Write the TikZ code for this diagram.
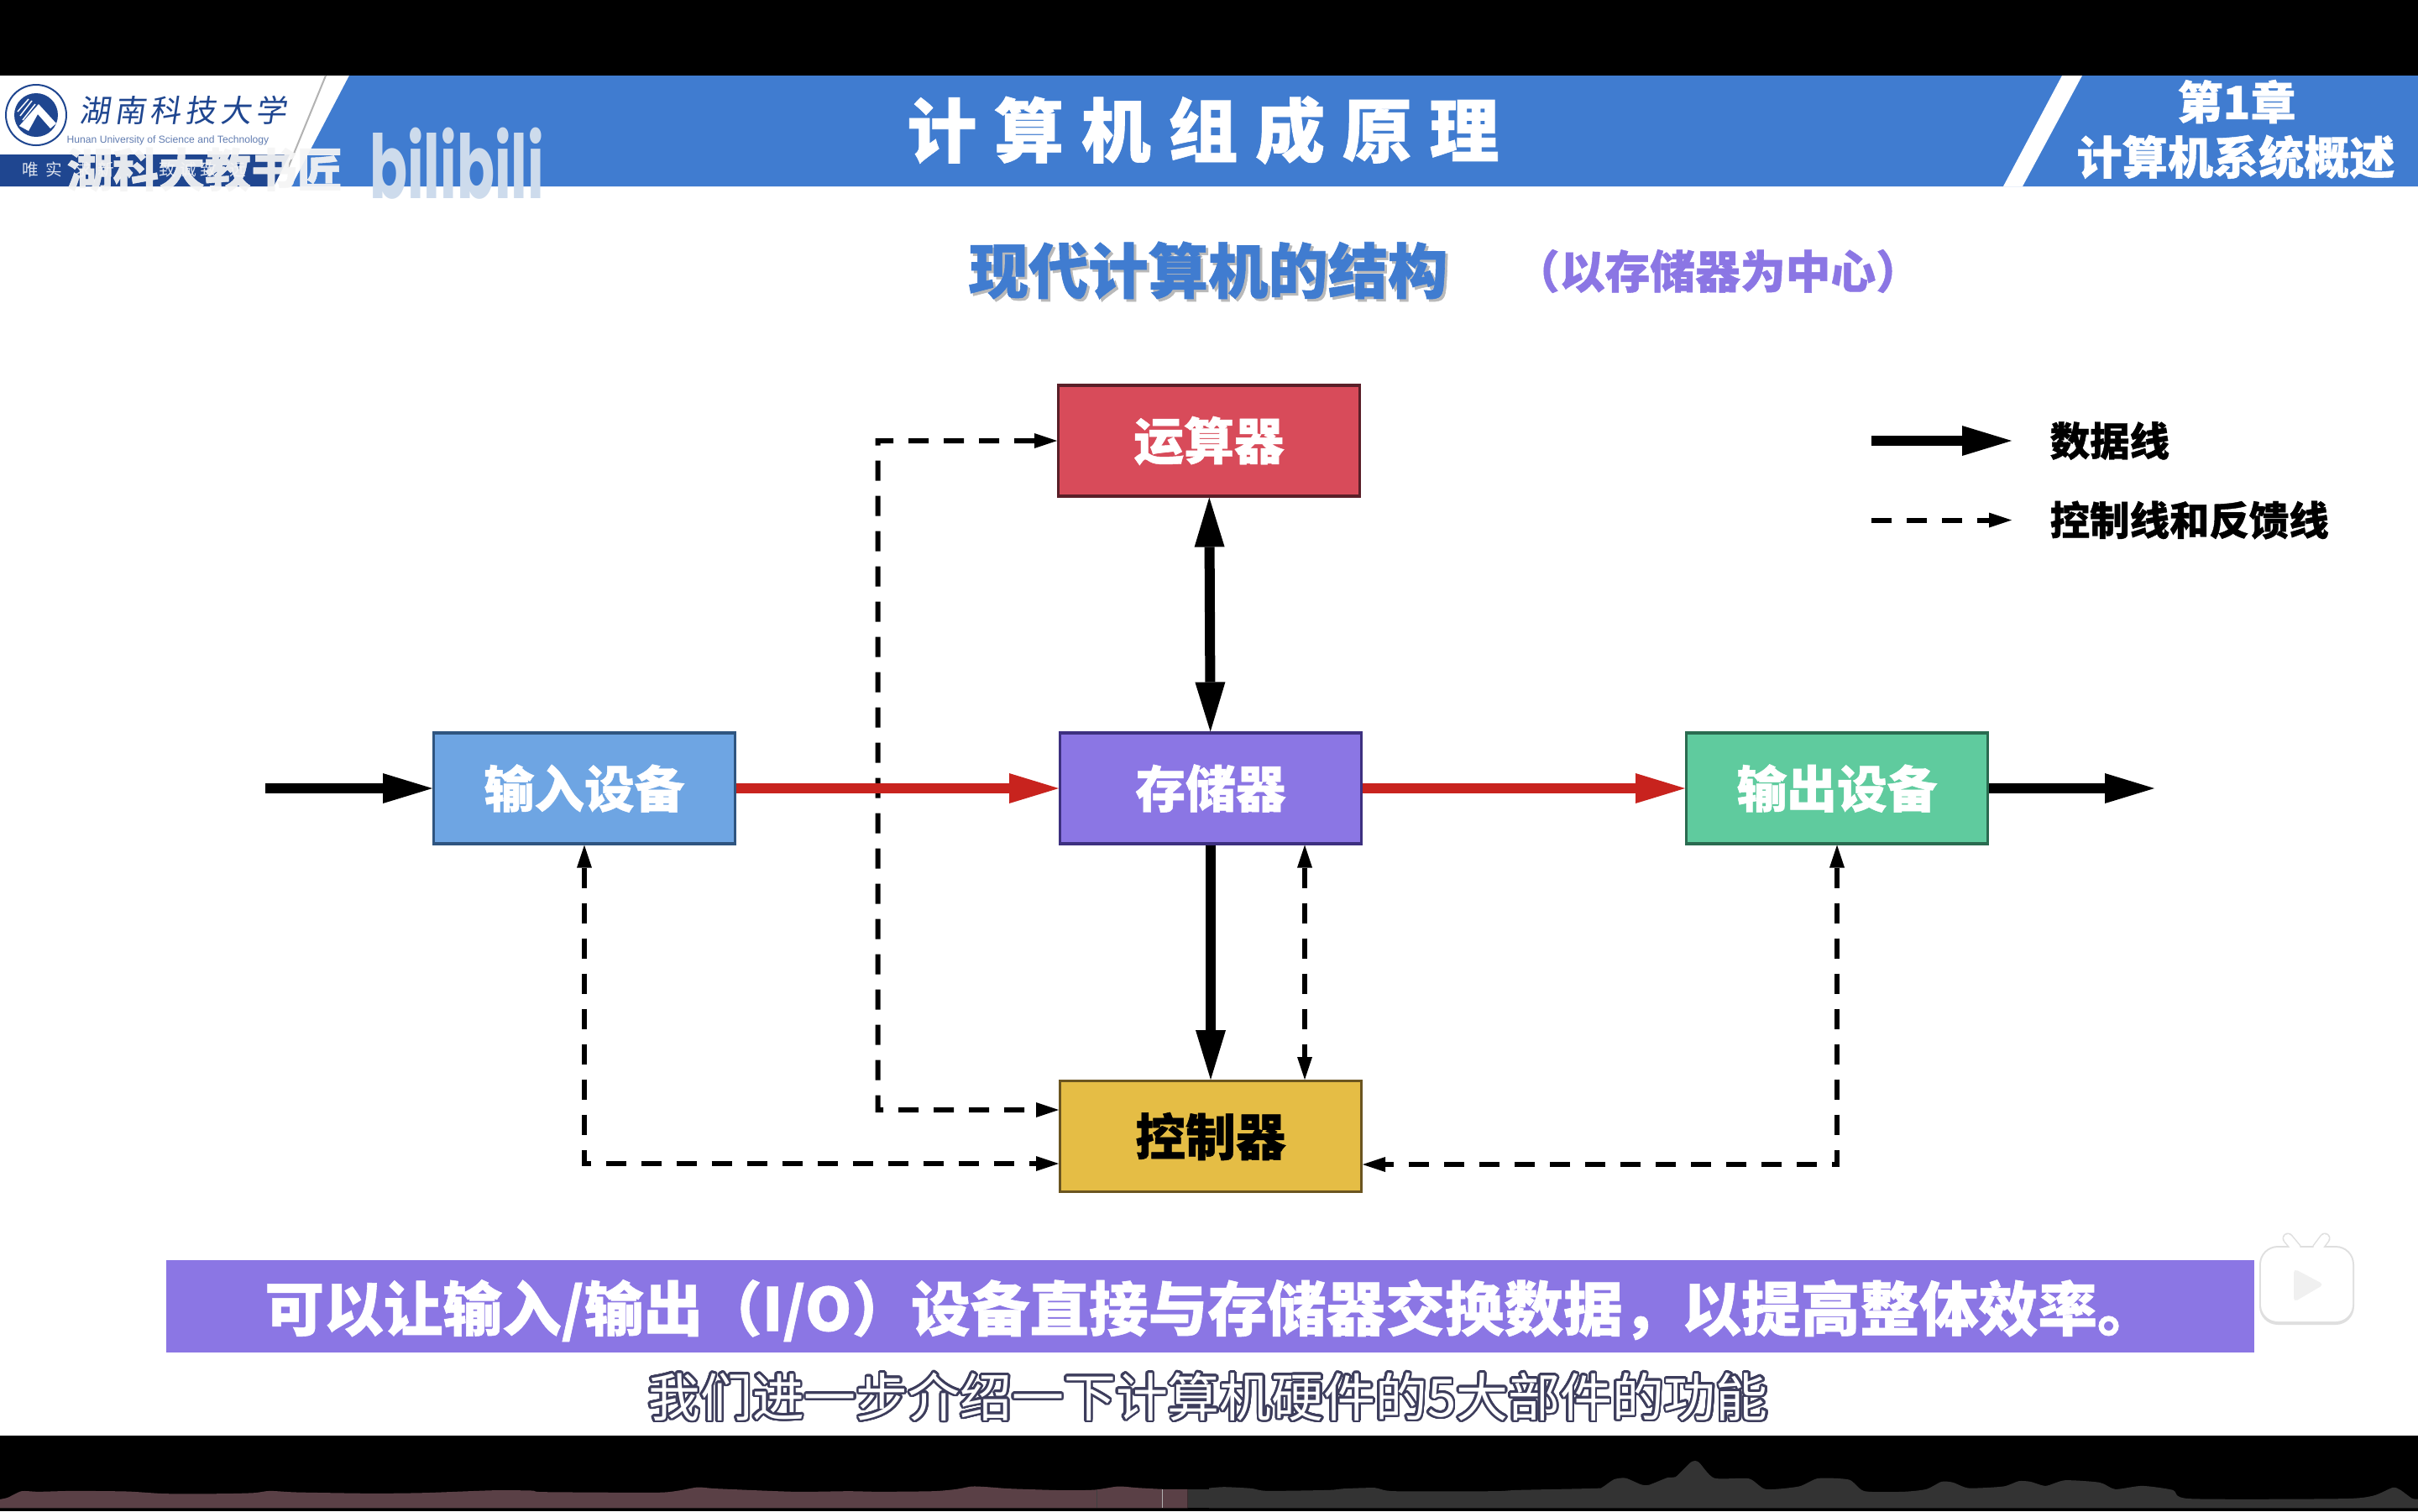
\documentclass[tikz,border=0pt]{standalone}
\usepackage{fontspec}
\usepackage{xcolor}
\usepackage{contour}
\setmainfont{Noto Sans CJK SC}[BoldFeatures={FakeBold=0.8}]
\newfontfamily\headfont[LetterSpace=25, BoldFeatures={FakeBold=0.8}]{Noto Sans CJK SC}
\newfontfamily\schoolfont[LetterSpace=14]{Noto Sans CJK SC}
\newfontfamily\latinfont{Liberation Sans}
\newfontfamily\logofont{Poppins}
\usetikzlibrary{arrows.meta, positioning}
\definecolor{headblue}{HTML}{407CD0}
\definecolor{navyblue}{HTML}{1F4690}
\definecolor{slidepurple}{HTML}{8B76E4}
\definecolor{capslate}{HTML}{3D3D5C}
\definecolor{busred}{HTML}{C8231E}
\contourlength{0.75pt}
\contournumber{32}
\tikzset{
  unitbox/.style={draw, line width=0.9pt, minimum width=3.59cm, minimum height=1.32cm, inner sep=0pt,
                  outer sep=0.015cm, font=\fontsize{17}{20}\selectfont\bfseries, text=white},
  dataarrow/.style={>={Triangle[length=5.9mm, width=3.6mm, line width=0pt]}, line width=1.2mm, black},
  redarrow/.style={dataarrow, color=busred},
  ctrlarrow/.style={>={Triangle[length=2.7mm, width=1.8mm, line width=0pt]}, line width=0.6mm, black,
                    dash pattern=on 2.4mm off 1.8mm},
  legendlabel/.style={anchor=west, inner sep=0pt, font=\fontsize{13.5}{16}\selectfont\bfseries},
  headlabel/.style={inner sep=0pt, text=white, font=\fontsize{15.4}{18}\selectfont\bfseries}
}

\begin{document}
\begin{tikzpicture}[
  playedwave/.style={fill={rgb,255:red,90;green,64;blue,70}},
  restwave/.style={fill={rgb,255:red,51;green,51;blue,51}},
]
\useasboundingbox (0,0) rectangle (28.8,-18);

% --- Screen frame ---
\fill[black] (0,0) rectangle (28.8,-18);
\fill[white] (0,-0.9) rectangle (28.8,-17.1);

% --- Header band ---
\fill[headblue] (4.16,-0.9) -- (28.8,-0.9) -- (28.8,-2.22) -- (3.47,-2.22) -- cycle;
\fill[white] (24.56,-0.9) -- (24.8,-0.9) -- (24.09,-2.22) -- (23.86,-2.22) -- cycle;
\fill[navyblue] (0,-1.84) -- (3.45,-1.84) -- (3.26,-2.22) -- (0,-2.22) -- cycle;
\draw[gray!60, line width=0.2mm] (3.88,-0.9) -- (3.43,-2);

% --- School badge ---
\draw[navyblue, line width=0.2mm, fill=white] (0.43,-1.37) circle (0.36);
\fill[navyblue] (0.43,-1.37) circle (0.26);
\fill[white] (0.23,-1.5) -- (0.46,-1.24) -- (0.67,-1.47) -- (0.6,-1.53) -- (0.45,-1.36) -- (0.34,-1.56) -- cycle;
\draw[white, line width=0.15mm] (0.24,-1.38) -- (0.38,-1.2) (0.27,-1.43) -- (0.42,-1.24) (0.21,-1.33) -- (0.34,-1.18);

% --- School name ---
\node[inner sep=0pt, text=navyblue, xslant=0.15, font=\fontsize{10.5}{13}\selectfont\schoolfont] (school) at (2.2,-1.31) {湖南科技大学};
\node[inner sep=0pt, text=navyblue!70, font=\fontsize{3.45}{4}\selectfont\latinfont] (schoolen) at (2.0,-1.67) {Hunan University of Science and Technology};
\node[inner sep=0pt, text=white!85!navyblue, font=\fontsize{5.6}{7}\selectfont] (motto) at (1.6,-2.02) {唯\hspace{0.8mm}实\hspace{1.5mm}求\hspace{0.8mm}新\hspace{5.3mm}致\hspace{0.5mm}诚\hspace{0.5mm}致\hspace{1.5mm}远};

% --- Video watermarks ---
\node[inner sep=0pt, text=white!92!gray, text opacity=0.93, font=\fontsize{15.6}{18}\selectfont\bfseries] (mark) at (2.44,-2.02) {湖科大教书匠};
\node[inner sep=0pt, text={rgb,255:red,205;green,219;blue,236}, xscale=0.63, font=\fontsize{30}{36}\selectfont\logofont\bfseries] (bili) at (5.44,-1.95) {bilibili};

% --- Header texts ---
\node[inner sep=0pt, text=white, font=\fontsize{23.6}{28}\selectfont\headfont\bfseries] (title) at (14.33,-1.55) {计算机组成原理};
\node[headlabel] (chapter) at (26.64,-1.21) {第1章};
\node[headlabel] (chaptername) at (26.63,-1.87) {计算机系统概述};

% --- Slide heading ---
\node[inner sep=0pt, text=gray!55, font=\fontsize{20.3}{24}\selectfont\bfseries] (headshadow) at (14.42,-3.25) {现代计算机的结构};
\node[inner sep=0pt, text=headblue, font=\fontsize{20.3}{24}\selectfont\bfseries] (heading) at (14.39,-3.22) {现代计算机的结构};
\node[inner sep=0pt, text=slidepurple, font=\fontsize{15.3}{18}\selectfont\bfseries] (subheading) at (20.46,-3.23) {（以存储器为中心）};

% --- Units ---
\node[unitbox, fill={rgb,255:red,216;green,75;blue,90}, draw={rgb,255:red,90;green,31;blue,40}] (compute) at (14.4,-5.25) {运算器};
\node[unitbox, fill=slidepurple, draw={rgb,255:red,61;green,48;blue,128}] (storage) at (14.42,-9.39) {存储器};
\node[unitbox, fill={rgb,255:red,110;green,165;blue,227}, draw={rgb,255:red,47;green,85;blue,128}] (input) at (6.96,-9.39) {输入设备};
\node[unitbox, fill={rgb,255:red,95;green,203;blue,158}, draw={rgb,255:red,42;green,107;blue,80}] (output) at (21.88,-9.39) {输出设备};
\node[unitbox, fill={rgb,255:red,229;green,189;blue,69}, draw={rgb,255:red,107;green,85;blue,32}, text=black] (control) at (14.42,-13.535) {控制器};

% --- Free ends ---
\coordinate (dataIn) at (3.16,-9.39);
\coordinate (dataOut) at (25.66,-9.39);
\coordinate (ctrlHigh) at ([yshift=0.315cm]control.west);
\coordinate (ctrlLow) at ([yshift=-0.325cm]control.west);
\coordinate (ctrlRight) at ([yshift=-0.335cm]control.east);
\coordinate (forkLow) at (10.456,-13.22);

% --- Control and feedback lines ---
\draw[ctrlarrow, <->] (compute.west) -| (forkLow) -- (ctrlHigh);
\draw[ctrlarrow, <->] (input.south) |- (ctrlLow);
\draw[ctrlarrow, <->] (output.south) |- (ctrlRight);
\draw[ctrlarrow, <->] ([xshift=1.12cm]storage.south) -- ([xshift=1.12cm]control.north);

% --- Data lines ---
\draw[dataarrow, <->] (compute) -- (storage);
\draw[dataarrow, ->] (storage) -- (control);
\draw[dataarrow, ->] (dataIn) -- (input);
\draw[dataarrow, ->] (output) -- (dataOut);
\draw[redarrow, ->] (input) -- (storage);
\draw[redarrow, ->] (storage) -- (output);

% --- Legend ---
\coordinate (legDataA) at (22.29,-5.25);
\coordinate (legDataB) at (23.96,-5.25);
\coordinate (legCtrlA) at (22.29,-6.195);
\coordinate (legCtrlB) at (23.96,-6.195);
\draw[dataarrow, ->] (legDataA) -- (legDataB);
\draw[ctrlarrow, ->] (legCtrlA) -- (legCtrlB);
\node[legendlabel] (legData) at (24.41,-5.25) {数据线};
\node[legendlabel] (legCtrl) at (24.41,-6.195) {控制线和反馈线};

% --- Banner ---
\fill[slidepurple] (1.98,-15.01) rectangle (26.85,-16.11);
\node[inner sep=0pt, text=white, font=\fontsize{20.1}{24}\selectfont\bfseries] (banner) at (14.42,-15.61) {可以让输入/输出（I/O）设备直接与存储器交换数据，以提高整体效率。};

% --- Caption ---
\node[inner sep=0pt, font=\fontsize{17.6}{21}\selectfont] (caption) at (14.39,-16.65) {\contour{capslate}{\textcolor{white}{我们进一步介绍一下计算机硬件的5大部件的功能}}};

% --- Player button ---
\draw[gray!25, line width=1.3mm, line cap=round] (27.35,-14.87) -- (27.25,-14.75) (27.6,-14.87) -- (27.69,-14.75);
\fill[gray!25, rounded corners=0.22cm] (26.91,-14.84) rectangle (28.04,-15.78);
\fill[white, rounded corners=0.2cm] (26.93,-14.86) rectangle (28.02,-15.74);
\draw[white, line width=1mm, line cap=round] (27.35,-14.87) -- (27.25,-14.75) (27.6,-14.87) -- (27.69,-14.75);
\fill[gray!12, rounded corners=0.05cm] (27.32,-15.11) -- (27.68,-15.3) -- (27.32,-15.51) -- cycle;

% --- Progress waveform ---
\begin{scope}[shift={(0,-17)}, x=0.009184cm, y=-0.003333cm]
\fill[playedwave] (0,290) -- plot[smooth, tension=0.4] coordinates {(0,258) (10,252) (28,229) (50,231) (95,228) (165,230) (215,238) (290,238) (330,235) (350,228) (385,233) (480,237) (550,235) (640,226) (690,227) (705,232) (850,234) (880,227) (905,215) (930,220) (1030,231) (1100,229) (1140,231) (1210,229) (1240,222) (1260,212) (1280,214) (1310,220) (1380,226) (1420,224) (1450,212) (1475,217) (1510,222) (1540,222)} -- (1540,290) -- cycle;
\fill[restwave] (1540,290) -- (1540,222) -- (1568,222) -- (1568,290) -- cycle;
\draw[black!75, line width=0.1mm] (1422,224) -- (1422,290);
\draw[white!70!black, line width=0.1mm] (1507,222) -- (1507,290);
\end{scope}
\begin{scope}[shift={(14.4,-17)}, x=0.009184cm, y=-0.003333cm]
\fill[restwave] (0,290) -- plot[smooth, tension=0.4] coordinates {(0,218) (20,214) (55,219) (75,228) (155,225) (175,220) (215,217) (240,229) (370,229) (400,225) (500,219) (510,215) (525,187) (540,182) (560,205) (570,207) (595,180) (605,178) (625,125) (635,125) (655,182) (700,184) (722,222) (765,212) (790,183) (830,188) (850,229) (900,231) (930,222) (950,195) (965,198) (985,218) (1030,212) (1050,193) (1065,195) (1085,210) (1110,190) (1155,198) (1175,222) (1210,210) (1250,225) (1272,256) (1470,256) (1510,245) (1535,216) (1545,225) (1560,255) (1568,257)} -- (1568,290) -- cycle;
\end{scope}

\end{tikzpicture}
\end{document}
